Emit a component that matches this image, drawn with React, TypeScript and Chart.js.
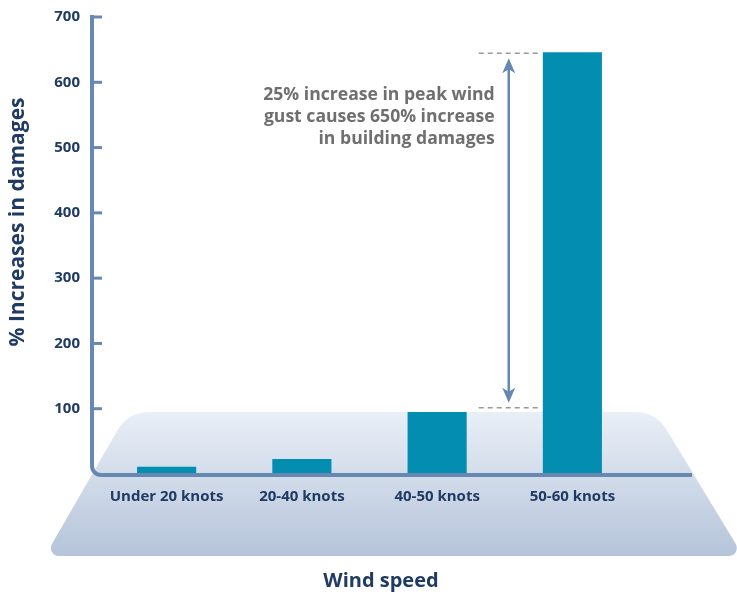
import React, { useEffect, useRef } from 'react';
import { Chart, registerables } from 'chart.js';

Chart.register(...registerables);

const categories = ['Under 20 knots', '20-40 knots', '40-50 knots', '50-60 knots'];
const damageIncrease = [11, 23, 95, 646];
const yMax = 700;
const yStep = 100;
const annotationLines = ['25% increase in peak wind', 'gust causes 650% increase', 'in building damages'];
const annotationFrom = 100;
const annotationTo = 646;
const yTitle = '% Increases in damages';
const xTitle = 'Wind speed';

const NAVY = '#1f3a63';
const AXIS = '#6688b1';
const BAR = '#038db0';
const FONT = '"Open Sans", "Noto Sans", sans-serif';

const platformPlugin = {
  id: 'platform',
  beforeDraw(chart: any) {
    const ctx = chart.ctx;
    const top = 412;
    const bottom = 556;
    const tl = { x: 128, y: top };
    const tr = { x: 656, y: top };
    const br = { x: 743, y: bottom };
    const bl = { x: 45, y: bottom };
    ctx.save();
    const g = ctx.createLinearGradient(0, top, 0, bottom);
    g.addColorStop(0, '#e9eff7');
    g.addColorStop(1, '#b5c4da');
    ctx.fillStyle = g;
    ctx.beginPath();
    ctx.moveTo((tl.x + tr.x) / 2, top);
    ctx.arcTo(tr.x, tr.y, br.x, br.y, 36);
    ctx.arcTo(br.x, br.y, bl.x, bl.y, 8);
    ctx.arcTo(bl.x, bl.y, tl.x, tl.y, 8);
    ctx.arcTo(tl.x, tl.y, tr.x, tr.y, 36);
    ctx.closePath();
    ctx.fill();
    ctx.restore();
  },
};

const decorPlugin = {
  id: 'decor',
  afterDatasetsDraw(chart: any) {
    const ctx = chart.ctx;
    const y = chart.scales.y;
    const x = chart.scales.x;
    const area = chart.chartArea;
    const axisX = area.left - 7;
    const zeroY = y.getPixelForValue(0) + 1;
    const r = 9;
    ctx.save();
    // axes
    ctx.strokeStyle = AXIS;
    ctx.lineWidth = 4;
    ctx.lineCap = 'butt';
    ctx.beginPath();
    ctx.moveTo(axisX, y.getPixelForValue(yMax) - 2);
    ctx.lineTo(axisX, zeroY - r);
    ctx.arcTo(axisX, zeroY, axisX + r, zeroY, r);
    ctx.lineTo(area.right + 52, zeroY);
    ctx.stroke();
    // tick marks
    ctx.lineWidth = 3;
    for (let v = yStep; v <= yMax; v += yStep) {
      const py = y.getPixelForValue(v);
      ctx.beginPath();
      ctx.moveTo(axisX, py);
      ctx.lineTo(axisX + 10, py);
      ctx.stroke();
    }
    // annotation
    const leftBar = x.getPixelForValue(2);
    const rightBar = x.getPixelForValue(3);
    const mid = (leftBar + rightBar) / 2 + 4;
    const topY = y.getPixelForValue(annotationTo) + 1;
    const botY = y.getPixelForValue(annotationFrom) - 1;
    ctx.strokeStyle = '#9a9a9a';
    ctx.lineWidth = 1.5;
    ctx.setLineDash([5, 4]);
    for (const py of [topY, botY]) {
      ctx.beginPath();
      ctx.moveTo(mid - 30, py);
      ctx.lineTo(mid + 29, py);
      ctx.stroke();
    }
    ctx.setLineDash([]);
    ctx.strokeStyle = AXIS;
    ctx.fillStyle = AXIS;
    ctx.lineWidth = 2.5;
    const tipTop = topY + 5;
    const tipBot = botY - 5;
    ctx.beginPath();
    ctx.moveTo(mid, tipTop + 8);
    ctx.lineTo(mid, tipBot - 8);
    ctx.stroke();
    const head = (tip: number, dir: number) => {
      ctx.beginPath();
      ctx.moveTo(mid, tip);
      ctx.lineTo(mid + 6.5, tip + dir * 15);
      ctx.lineTo(mid, tip + dir * 11);
      ctx.lineTo(mid - 6.5, tip + dir * 15);
      ctx.closePath();
      ctx.fill();
    };
    head(tipTop, 1);
    head(tipBot, -1);
    // annotation text
    ctx.fillStyle = '#6f6f6f';
    ctx.font = `bold 17.6px ${FONT}`;
    ctx.textAlign = 'right';
    ctx.textBaseline = 'middle';
    annotationLines.forEach((t, i) => {
      ctx.fillText(t, mid - 14, 95 + i * 22);
    });
    // titles
    ctx.fillStyle = NAVY;
    ctx.font = `bold 20px ${FONT}`;
    ctx.textAlign = 'center';
    ctx.fillText(xTitle, 381, 581);
    ctx.font = `bold 21px ${FONT}`;
    ctx.translate(18, 222);
    ctx.rotate(-Math.PI / 2);
    ctx.fillText(yTitle, 0, 0);
    ctx.restore();
  },
};

export default function App() {
  const ref = useRef<HTMLCanvasElement>(null);
  useEffect(() => {
    if (!ref.current) return;
    const chart = new Chart(ref.current, {
      type: 'bar',
      data: {
        labels: categories,
        datasets: [
          {
            data: damageIncrease,
            backgroundColor: BAR,
            borderWidth: 0,
            categoryPercentage: 1,
            barPercentage: 0.437,
          },
        ],
      },
      options: {
        responsive: false,
        animation: false,
        layout: { padding: { top: 17, right: 97, left: 0, bottom: 0 } },
        plugins: { legend: { display: false }, tooltip: { enabled: false } },
        scales: {
          x: {
            grid: { display: false, drawTicks: false },
            border: { display: false },
            ticks: { color: NAVY, font: { family: FONT, size: 15, weight: 'bold' }, padding: 14 },
            afterFit: (s: any) => {
              s.height = 121;
            },
          },
          y: {
            min: 0,
            max: yMax,
            grid: { display: false, drawTicks: false },
            border: { display: false },
            ticks: {
              stepSize: yStep,
              color: NAVY,
              font: { family: FONT, size: 15, weight: 'bold' },
              padding: 19,
              callback: (v: any) => (v === 0 ? '' : String(v)),
            },
            afterFit: (s: any) => {
              s.width = 99;
              s.paddingTop = 0;
              s.paddingBottom = 0;
            },
          },
        },
      },
      plugins: [platformPlugin, decorPlugin],
    } as any);
    return () => chart.destroy();
  }, []);
  return (
    <div style={{ position: 'fixed', left: 0, top: 0, width: 737, height: 595, background: '#fff' }}>
      <canvas ref={ref} width={737} height={595} style={{ display: 'block', width: 737, height: 595 }} />
    </div>
  );
}
